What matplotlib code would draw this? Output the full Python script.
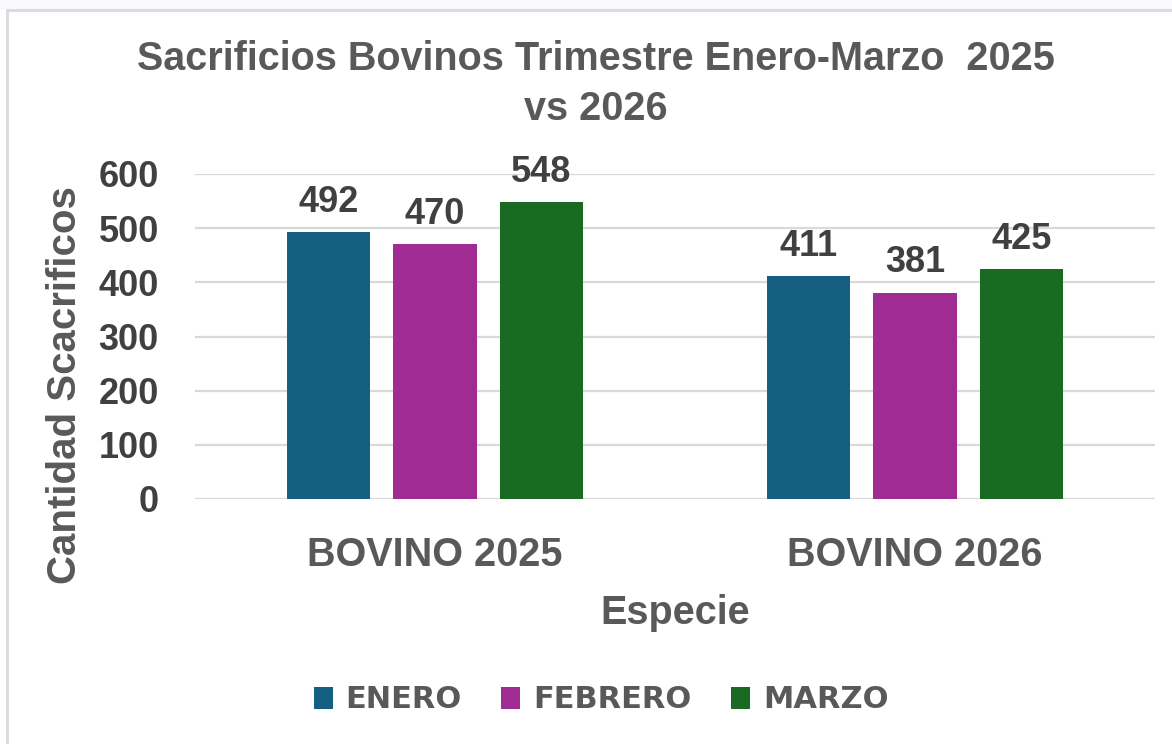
import numpy as np
import matplotlib.pyplot as plt
from matplotlib.patches import Rectangle, Patch

categories = ['BOVINO 2025', 'BOVINO 2026']
months = ['ENERO', 'FEBRERO', 'MARZO']
enero = [492, 411]
febrero = [470, 381]
marzo = [548, 425]
colors = ['#156082', '#A02B93', '#196B24']

W, H = 1172, 744
fig = plt.figure(figsize=(W / 100, H / 100), dpi=100)
fig.patch.set_facecolor('white')

# light strip above the chart frame + frame border
fig.add_artist(Rectangle((0, 1 - 10 / H), 1, 10 / H, transform=fig.transFigure,
                         facecolor='#F8F9FC', edgecolor='none', zorder=0))
fig.add_artist(Rectangle((7 / W, -0.01), 1.02, 1 - 10 / H + 0.01, transform=fig.transFigure,
                         facecolor='none', edgecolor='#D9D9D9', lw=2, zorder=1))

ax = fig.add_axes([195 / W, 1 - 499 / H, (1155 - 195) / W, (499 - 174) / H])
x = np.arange(len(categories))
width = 0.173
step = 0.222
series = [enero, febrero, marzo]
for i, (vals, col) in enumerate(zip(series, colors)):
    pos = x + (i - 1) * step
    ax.bar(pos, vals, width, color=col, zorder=3)
    for px, v in zip(pos, vals):
        ax.annotate(str(v), (px, v), xytext=(0, 14.5), textcoords='offset points',
                    ha='center', va='baseline', fontsize=26, fontweight='bold',
                    color='#404040', family='Liberation Sans')

ax.set_xlim(-0.5, 1.5)
ax.set_ylim(0, 600)
ax.set_yticks(range(0, 601, 100))
ax.grid(axis='y', color='#D9D9D9', lw=1.6, zorder=0)
for s in ax.spines.values():
    s.set_visible(False)
ax.tick_params(axis='both', length=0)
ax.set_yticklabels([str(v) for v in range(0, 601, 100)], fontsize=26, fontweight='bold',
                   color='#404040', family='Liberation Sans')
ax.tick_params(axis='y', pad=26)
ax.set_xticks(x)
ax.set_xticklabels(categories, fontsize=28.5, fontweight='bold', color='#595959',
                   family='Liberation Sans')
ax.tick_params(axis='x', pad=27)

fig.text(596 / W, 1 - 84 / H, 'Sacrificios Bovinos Trimestre Enero-Marzo  2025\nvs 2026',
         ha='center', va='center', fontsize=28.5, fontweight='bold', color='#595959',
         family='Liberation Sans', linespacing=1.4)
fig.text(65 / W, 1 - 385 / H, 'Cantidad Scacrificos', rotation=90, ha='center', va='center',
         fontsize=29, fontweight='bold', color='#595959', family='Liberation Sans')
fig.text(675 / W, 1 - 613 / H, 'Especie', ha='center', va='center', fontsize=28.5,
         fontweight='bold', color='#595959', family='Liberation Sans')

handles = [Patch(facecolor=c, edgecolor='none') for c in colors]
leg = fig.legend(handles, months, loc='center', bbox_to_anchor=(601 / W, 1 - 700 / H),
                 ncol=3, frameon=False, handlelength=0.62, handleheight=0.72,
                 handletextpad=0.42, columnspacing=1.3,
                 prop={'family': 'DejaVu Sans', 'weight': 'bold', 'size': 22})
for t in leg.get_texts():
    t.set_color('#595959')

fig.savefig('out.png', dpi=100)
